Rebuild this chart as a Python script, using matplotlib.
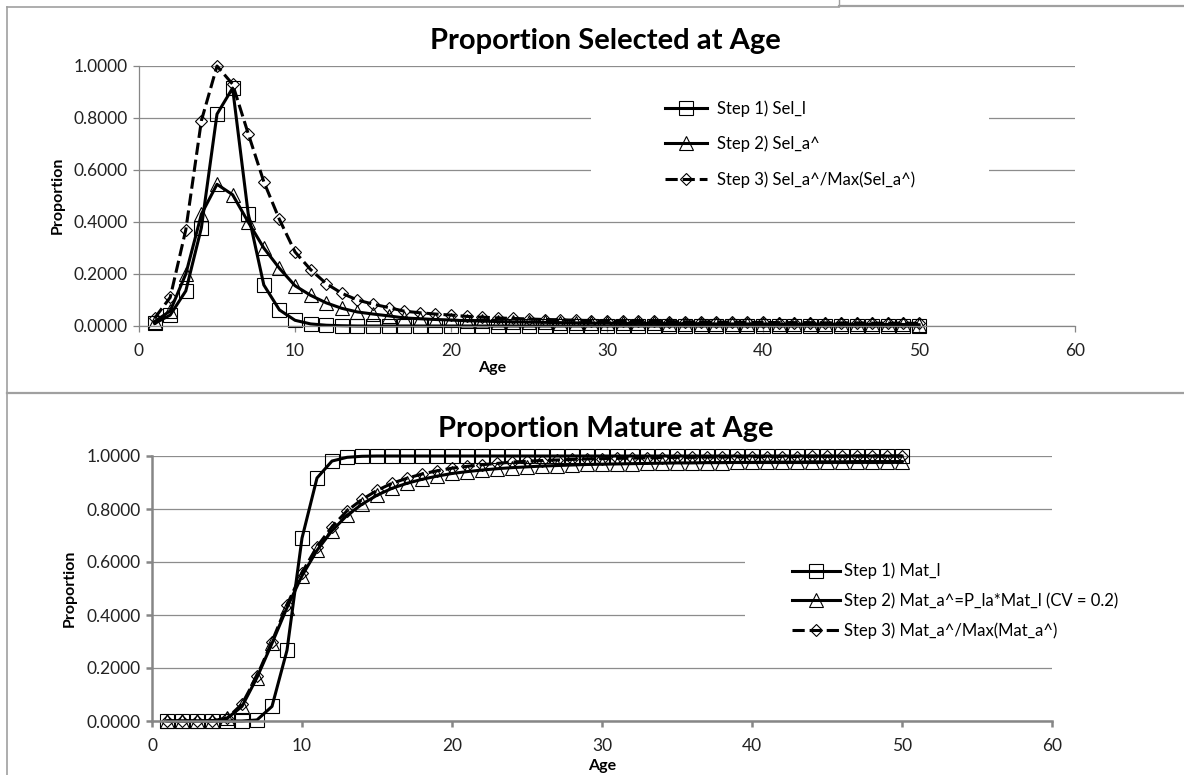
import matplotlib
matplotlib.use("Agg")
import matplotlib.pyplot as plt
from matplotlib.lines import Line2D
from matplotlib.patches import Rectangle
from matplotlib.ticker import FormatStrFormatter

plt.rcParams['font.family'] = ['Lato', 'DejaVu Sans']

# ---------------- data ----------------
ages = list(range(1, 51))

sel_l = [0.010, 0.042, 0.135, 0.378, 0.815, 0.915, 0.432, 0.158, 0.062, 0.022,
         0.008, 0.003, 0.001, 0.000, 0.000, 0.000, 0.000, 0.000, 0.000, 0.000,
         0.000, 0.000, 0.000, 0.000, 0.000, 0.000, 0.000, 0.000, 0.000, 0.000,
         0.000, 0.000, 0.000, 0.000, 0.000, 0.000, 0.000, 0.000, 0.000, 0.000,
         0.000, 0.000, 0.000, 0.000, 0.000, 0.000, 0.000, 0.000, 0.000, 0.000]

sel_a_hat = [0.017, 0.058, 0.200, 0.430, 0.545, 0.505, 0.400, 0.300, 0.222, 0.155,
             0.118, 0.089, 0.068, 0.054, 0.046, 0.039, 0.031, 0.028, 0.025, 0.023,
             0.020, 0.019, 0.017, 0.016, 0.015, 0.014, 0.013, 0.012, 0.011, 0.011,
             0.010, 0.010, 0.010, 0.009, 0.009, 0.009, 0.008, 0.008, 0.008, 0.008,
             0.007, 0.007, 0.007, 0.007, 0.007, 0.007, 0.006, 0.006, 0.006, 0.005]

sel_scaled = [0.030, 0.110, 0.370, 0.790, 1.000, 0.930, 0.740, 0.555, 0.410, 0.285,
              0.217, 0.163, 0.126, 0.100, 0.084, 0.071, 0.057, 0.051, 0.046, 0.042,
              0.037, 0.034, 0.031, 0.029, 0.027, 0.025, 0.024, 0.022, 0.021, 0.020,
              0.019, 0.018, 0.018, 0.017, 0.016, 0.016, 0.015, 0.015, 0.014, 0.014,
              0.013, 0.013, 0.013, 0.012, 0.012, 0.012, 0.011, 0.011, 0.011, 0.010]

mat_l = [0.000, 0.000, 0.000, 0.000, 0.000, 0.000, 0.004, 0.055, 0.267, 0.690,
         0.917, 0.981, 0.995, 0.999, 1.000, 1.000, 1.000, 1.000, 1.000, 1.000,
         1.000, 1.000, 1.000, 1.000, 1.000, 1.000, 1.000, 1.000, 1.000, 1.000,
         1.000, 1.000, 1.000, 1.000, 1.000, 1.000, 1.000, 1.000, 1.000, 1.000,
         1.000, 1.000, 1.000, 1.000, 1.000, 1.000, 1.000, 1.000, 1.000, 1.000]

mat_a_hat = [0.000, 0.000, 0.000, 0.001, 0.010, 0.055, 0.164, 0.293, 0.428, 0.548,
             0.644, 0.718, 0.776, 0.818, 0.852, 0.878, 0.897, 0.912, 0.924, 0.934,
             0.941, 0.947, 0.952, 0.956, 0.959, 0.962, 0.964, 0.966, 0.968, 0.969,
             0.970, 0.971, 0.972, 0.973, 0.974, 0.974, 0.975, 0.975, 0.976, 0.976,
             0.977, 0.977, 0.977, 0.978, 0.978, 0.978, 0.979, 0.979, 0.979, 0.979]

mat_scaled = [0.000, 0.000, 0.000, 0.001, 0.010, 0.064, 0.170, 0.300, 0.438, 0.560,
              0.658, 0.733, 0.793, 0.836, 0.870, 0.897, 0.916, 0.932, 0.944, 0.954,
              0.961, 0.967, 0.972, 0.977, 0.980, 0.983, 0.985, 0.987, 0.989, 0.990,
              0.991, 0.992, 0.993, 0.994, 0.995, 0.995, 0.996, 0.996, 0.997, 0.997,
              0.998, 0.998, 0.998, 0.999, 0.999, 0.999, 1.000, 1.000, 1.000, 1.000]

sel_labels = ["Step 1) Sel_l", "Step 2) Sel_a^", "Step 3) Sel_a^/Max(Sel_a^)"]
mat_labels = ["Step 1) Mat_l", "Step 2) Mat_a^=P_la*Mat_l (CV = 0.2)",
              "Step 3) Mat_a^/Max(Mat_a^)"]
x_ticks = [0, 10, 20, 30, 40, 50, 60]
y_ticks = [0.0, 0.2, 0.4, 0.6, 0.8, 1.0]

# ---------------- figure ----------------
W, H = 1184, 775
fig = plt.figure(figsize=(W / 100, H / 100), dpi=100)
fig.patch.set_facecolor('white')

def fx(px):
    return px / W

def fy(py):
    return 1 - py / H

GRID = '#8c8c8c'
AX = '#868686'
FRAME = '#a0a0a0'

# panel frames
fig.add_artist(Line2D([fx(7), fx(7)], [fy(7), fy(775)], color=FRAME, lw=1.2, transform=fig.transFigure))
fig.add_artist(Line2D([fx(7), fx(839)], [fy(7), fy(7)], color=FRAME, lw=1.2, transform=fig.transFigure))
fig.add_artist(Line2D([fx(839), fx(1184)], [fy(5.5), fy(5.5)], color=FRAME, lw=1.6, transform=fig.transFigure))
fig.add_artist(Line2D([fx(839), fx(839)], [fy(0), fy(6)], color=FRAME, lw=1.0, transform=fig.transFigure))
fig.add_artist(Line2D([fx(7), fx(1184)], [fy(393), fy(393)], color=FRAME, lw=1.6, transform=fig.transFigure))


def make_axes(x0, x1, y_top, y_bot):
    return fig.add_axes([fx(x0), fy(y_bot), fx(x1) - fx(x0), fy(y_top) - fy(y_bot)])


def style_axes(ax, spine_w):
    ax.set_xlim(0, 60)
    ax.set_ylim(0, 1.0)
    ax.set_xticks(x_ticks)
    ax.set_yticks(y_ticks)
    ax.yaxis.set_major_formatter(FormatStrFormatter('%.4f'))
    ax.grid(axis='y', color=GRID, lw=0.9)
    ax.set_axisbelow(True)
    for s in ['top', 'right']:
        ax.spines[s].set_visible(False)
    ax.spines['left'].set_color(AX)
    ax.spines['bottom'].set_color(AX)
    ax.spines['left'].set_linewidth(spine_w)
    ax.spines['bottom'].set_linewidth(spine_w)
    ax.tick_params(axis='both', colors=AX, labelcolor='#222222', labelsize=12.5,
                   length=4.5, width=spine_w, direction='out')
    ax.tick_params(axis='y', pad=3.5)
    ax.tick_params(axis='x', pad=8)
    ax.patch.set_alpha(0)


def plot_series(ax, y1, y2, y3):
    common = dict(color='black', lw=2.2, mfc='none', mec='black', mew=0.8)
    h1, = ax.plot(ages, y1, marker='s', ms=9.5, clip_on=False, **common)
    h2, = ax.plot(ages, y2, marker='^', ms=10, clip_on=False, **common)
    h3, = ax.plot(ages, y3, marker='D', ms=6.5, clip_on=False, dashes=[4, 1.6], **common)
    return [h1, h2, h3]


# ---------- top chart ----------
ax1 = make_axes(139, 1075, 66, 326)
style_axes(ax1, 0.9)
# legend background
fig.add_artist(Rectangle((fx(591), fy(200)), fx(989) - fx(591), fy(92) - fy(200),
                         transform=fig.transFigure, facecolor='white', edgecolor='none', zorder=1.5))
hs = plot_series(ax1, sel_l, sel_a_hat, sel_scaled)
leg1 = fig.legend(hs, sel_labels, loc='center left',
                  bbox_to_anchor=(fx(665), fy(144)), bbox_transform=fig.transFigure,
                  frameon=False, fontsize=12, handlelength=2.5, handletextpad=0.6,
                  labelspacing=1.15, borderpad=0, borderaxespad=0)
fig.text(fx(605), fy(41), 'Proportion Selected at Age', ha='center', va='center',
         fontsize=21, fontweight='bold')
fig.text(fx(58), fy(195), 'Proportion', ha='center', va='center', rotation=90,
         fontsize=11.5, fontweight='bold')
fig.text(fx(492), fy(368), 'Age', ha='center', va='center', fontsize=11.5, fontweight='bold')

# ---------- bottom chart ----------
ax2 = make_axes(152, 1052, 456, 721)
style_axes(ax2, 1.8)
fig.add_artist(Rectangle((fx(745), fy(650)), fx(1140) - fx(745), fy(540) - fy(650),
                         transform=fig.transFigure, facecolor='white', edgecolor='none', zorder=1.5))
hs2 = plot_series(ax2, mat_l, mat_a_hat, mat_scaled)
leg2 = fig.legend(hs2, mat_labels, loc='center left',
                  bbox_to_anchor=(fx(792), fy(601)), bbox_transform=fig.transFigure,
                  frameon=False, fontsize=12, handlelength=2.85, handletextpad=0.25,
                  labelspacing=0.8, borderpad=0, borderaxespad=0)
fig.text(fx(606), fy(429), 'Proportion Mature at Age', ha='center', va='center',
         fontsize=21, fontweight='bold')
fig.text(fx(70), fy(588), 'Proportion', ha='center', va='center', rotation=90,
         fontsize=11.5, fontweight='bold')
fig.text(fx(602), fy(766), 'Age', ha='center', va='center', fontsize=11.5, fontweight='bold')

fig.savefig('out.png', dpi=100, facecolor='white')
